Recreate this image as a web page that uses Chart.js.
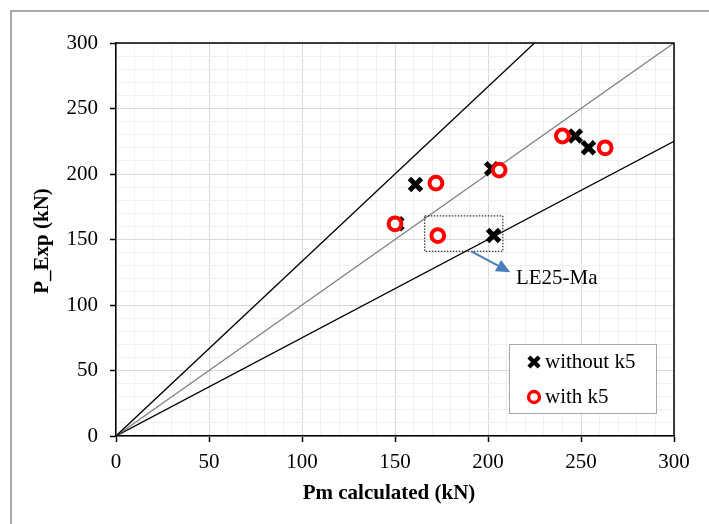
<!DOCTYPE html>
<html>
<head>
<meta charset="utf-8">
<script src="https://cdn.jsdelivr.net/npm/chart.js@4/dist/chart.umd.min.js"></script>
<style>
  html, body { margin: 0; padding: 0; background: #fff; }
  canvas { display: block; }
</style>
</head>
<body>
<canvas id="chart" width="709" height="524"></canvas>
<script>
// measured vs calculated capacity, kN
const withoutK5 = [
  { x: 151, y: 162 },
  { x: 161, y: 192 },
  { x: 202, y: 204 },
  { x: 247, y: 229 },
  { x: 254, y: 220 },
  { x: 203, y: 153 }
]
const withK5 = [
  { x: 150, y: 162 },
  { x: 172, y: 193 },
  { x: 206, y: 203 },
  { x: 240, y: 229 },
  { x: 263, y: 220 },
  { x: 173, y: 153 }
]

// reference lines through the origin
const upperLine = [{ x: 0, y: 0 }, { x: 225, y: 300 }]
const equalLine = [{ x: 0, y: 0 }, { x: 300, y: 300 }]
const lowerLine = [{ x: 0, y: 0 }, { x: 300, y: 225 }]

const axisMin = 0
const axisMax = 300
const majorStep = 50
const minorStep = 10

// highlighted specimen
const calloutBox = { x1: 166, x2: 208, y1: 141, y2: 168 }
const calloutArrow = { from: { x: 191, y: 141 }, to: { x: 212, y: 125 } }
const calloutText = { x: 215, y: 120.5, label: 'LE25-Ma' }

const FONT = '"Liberation Serif", "Times New Roman", serif'
const FONT_SIZE = 21

const crossStyle = { pointStyle: 'crossRot', radius: 8.5, borderWidth: 5, rotation: 0 }
const ringStyle = { pointStyle: 'circle', radius: 6.4, borderWidth: 4, rotation: 0 }

const refLine = (data, color) => ({
  type: 'line',
  data,
  borderColor: color,
  borderWidth: 1.3,
  pointRadius: 0,
  fill: false,
  order: 2
})

const isMajor = (ctx) => ctx.tick && ctx.tick.value % majorStep === 0

const axis = (pos, padding, afterFit) => ({
  type: 'linear',
  position: pos,
  min: axisMin,
  max: axisMax,
  afterFit,
  border: { color: '#000', width: 1.5 },
  grid: {
    color: (ctx) => isMajor(ctx) ? '#d9d9d9' : '#f0f0f0',
    lineWidth: 1,
    tickLength: 6,
    tickColor: (ctx) => isMajor(ctx) ? '#000' : 'rgba(0,0,0,0)',
    tickWidth: 1.5
  },
  ticks: {
    stepSize: minorStep,
    autoSkip: false,
    maxRotation: 0,
    padding,
    color: '#000',
    font: { family: FONT, size: FONT_SIZE },
    callback: (v) => v % majorStep === 0 ? v : ''
  }
})

const extras = {
  id: 'extras',
  beforeDraw(chart) {
    const { ctx } = chart
    ctx.save()
    ctx.strokeStyle = '#8c8c8c'
    ctx.lineWidth = 1.5
    ctx.beginPath()
    ctx.moveTo(11, 530)
    ctx.lineTo(11, 11)
    ctx.lineTo(720, 11)
    ctx.stroke()
    ctx.restore()
  },
  afterDatasetsDraw(chart) {
    const { ctx, chartArea: a, scales: { x, y } } = chart
    ctx.save()

    // frame on the top and right
    ctx.strokeStyle = '#000'
    ctx.lineWidth = 1.5
    ctx.beginPath()
    ctx.moveTo(a.left, a.top)
    ctx.lineTo(a.right, a.top)
    ctx.lineTo(a.right, a.bottom)
    ctx.stroke()

    // dotted box round the specimen
    const bx1 = x.getPixelForValue(calloutBox.x1)
    const bx2 = x.getPixelForValue(calloutBox.x2)
    const by1 = y.getPixelForValue(calloutBox.y2)
    const by2 = y.getPixelForValue(calloutBox.y1)
    ctx.lineWidth = 1
    ctx.setLineDash([1.5, 1.5])
    ctx.strokeRect(bx1, by1, bx2 - bx1, by2 - by1)
    ctx.setLineDash([])

    // arrow
    const fx = x.getPixelForValue(calloutArrow.from.x)
    const fy = y.getPixelForValue(calloutArrow.from.y)
    const tx = x.getPixelForValue(calloutArrow.to.x)
    const ty = y.getPixelForValue(calloutArrow.to.y)
    const ang = Math.atan2(ty - fy, tx - fx)
    const headLen = 14
    const headHalf = 6.5
    const bxh = tx - Math.cos(ang) * headLen
    const byh = ty - Math.sin(ang) * headLen
    ctx.strokeStyle = '#4a7ebb'
    ctx.fillStyle = '#4a7ebb'
    ctx.lineWidth = 2
    ctx.beginPath()
    ctx.moveTo(fx, fy)
    ctx.lineTo(bxh, byh)
    ctx.stroke()
    ctx.beginPath()
    ctx.moveTo(tx, ty)
    ctx.lineTo(bxh + Math.sin(ang) * headHalf, byh - Math.cos(ang) * headHalf)
    ctx.lineTo(bxh - Math.sin(ang) * headHalf, byh + Math.cos(ang) * headHalf)
    ctx.closePath()
    ctx.fill()

    ctx.fillStyle = '#000'
    ctx.font = FONT_SIZE + 'px ' + FONT
    ctx.textAlign = 'left'
    ctx.textBaseline = 'middle'
    ctx.fillText(calloutText.label, x.getPixelForValue(calloutText.x), y.getPixelForValue(calloutText.y))

    // legend
    ctx.fillStyle = '#fff'
    ctx.fillRect(509, 344, 148, 70)
    ctx.strokeStyle = '#a6a6a6'
    ctx.lineWidth = 1
    ctx.strokeRect(509.5, 344.5, 147, 69)
    const items = [
      { label: 'without k5', style: crossStyle, stroke: '#000', fill: '#000', yy: 362 },
      { label: 'with k5', style: ringStyle, stroke: '#ff0000', fill: '#fff', yy: 397 }
    ]
    items.forEach((it) => {
      ctx.strokeStyle = it.stroke
      ctx.fillStyle = it.fill
      ctx.lineWidth = it.style.borderWidth * 0.85
      Chart.helpers.drawPoint(ctx, Object.assign({}, it.style, { radius: it.style.radius * 0.85 }), 534, it.yy)
      ctx.fillStyle = '#000'
      ctx.font = FONT_SIZE + 'px ' + FONT
      ctx.textAlign = 'left'
      ctx.textBaseline = 'middle'
      ctx.fillText(it.label, 545, it.yy)
    })

    // axis titles
    ctx.font = 'bold ' + FONT_SIZE + 'px ' + FONT
    ctx.textAlign = 'center'
    ctx.fillText('Pm calculated (kN)', 389, 494)
    ctx.translate(43, 241)
    ctx.rotate(-Math.PI / 2)
    ctx.fillText('P_Exp (kN)', 0, 0)

    ctx.restore()
  }
}

const pointDataset = (label, data, stroke, fill, style, order) => ({
  label,
  data,
  borderColor: stroke,
  backgroundColor: fill,
  pointStyle: style.pointStyle,
  pointRadius: style.radius,
  pointHoverRadius: style.radius,
  pointBorderWidth: style.borderWidth,
  order
})

new Chart(document.getElementById('chart'), {
  type: 'scatter',
  data: {
    datasets: [
      refLine(upperLine, '#000'),
      refLine(equalLine, '#808080'),
      refLine(lowerLine, '#000'),
      pointDataset('without k5', withoutK5, '#000', '#000', crossStyle, 1),
      pointDataset('with k5', withK5, '#ff0000', '#fff', ringStyle, 0)
    ]
  },
  options: {
    responsive: false,
    animation: false,
    devicePixelRatio: 1,
    layout: { padding: { top: 43, right: 35, left: 0, bottom: 0 } },
    plugins: {
      legend: { display: false },
      tooltip: { enabled: false }
    },
    scales: {
      x: axis('bottom', 8, (scale) => { scale.height = 88 }),
      y: axis('left', 12, (scale) => { scale.width = 116 })
    }
  },
  plugins: [extras]
})
</script>
</body>
</html>
